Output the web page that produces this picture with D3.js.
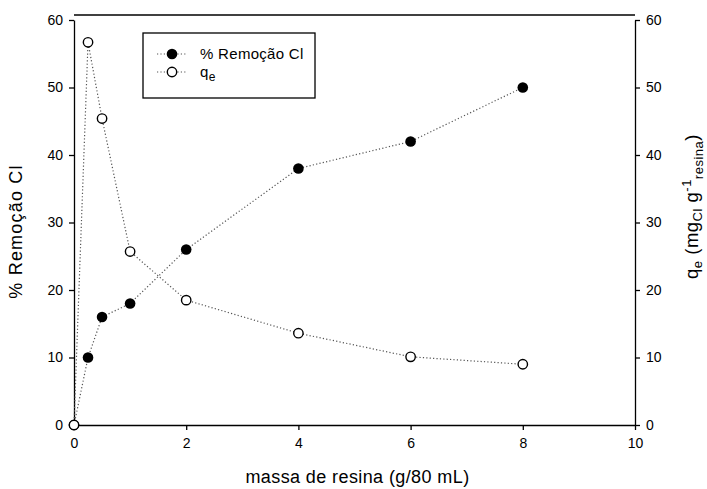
<!DOCTYPE html>
<html>
<head>
<meta charset="utf-8">
<script src="https://cdn.jsdelivr.net/npm/d3@7"></script>
<style>
  body { margin: 0; background: #fff; }
  svg { font-family: "Liberation Sans", Arial, sans-serif; }
</style>
</head>
<body>
<div id="root"></div>
<script>
const massa = [0, 0.25, 0.5, 1, 2, 4, 6, 8];
const remocao = [0, 10, 16, 18, 26, 38, 42, 50];
const qe = [0, 56.7, 45.4, 25.7, 18.5, 13.6, 10.1, 9.0];
const xTicks = [0, 2, 4, 6, 8, 10];
const yTicks = [0, 10, 20, 30, 40, 50, 60];

const W = 707, H = 489;
const margin = {top: 20, right: 72, bottom: 64, left: 74},
    width = W - margin.left - margin.right,
    height = H - margin.top - margin.bottom;

let svg = d3.select("#root").append("svg")
    .attr("width", W)
    .attr("height", H)
    .append("g")
    .attr("transform", "translate(" + margin.left + "," + margin.top + ")");

let x = d3.scaleLinear().domain([0, 10]).range([0, width]);
let yL = d3.scaleLinear().domain([0, 60]).range([height, 0]);
let yR = d3.scaleLinear().domain([0, 60]).range([height, 0]);

// top frame line (sits a little above the axes' top)
svg.append("line")
  .attr("x1", 0).attr("x2", width)
  .attr("y1", -5).attr("y2", -5)
  .attr("stroke", "#000").attr("stroke-width", 1.3);

function styleAxis(g) {
  g.selectAll("path, line").attr("stroke", "#000").attr("stroke-width", 1.3);
  g.selectAll("text").attr("font-size", "14px").attr("fill", "#000")
    .attr("font-family", "Liberation Sans, Arial, sans-serif");
}

svg.append("g")
  .attr("transform", "translate(0," + height + ")")
  .call(d3.axisBottom(x).tickValues(xTicks).tickSize(5).tickSizeOuter(0).tickPadding(8))
  .call(styleAxis);

svg.append("g")
  .call(d3.axisLeft(yL).tickValues(yTicks).tickSize(5).tickSizeOuter(0).tickPadding(6))
  .call(styleAxis);

svg.append("g")
  .attr("transform", "translate(" + width + ",0)")
  .call(d3.axisRight(yR).tickValues(yTicks).tickSize(5).tickSizeOuter(0).tickPadding(6))
  .call(styleAxis);

// lines
const line1 = d3.line().x((d, i) => x(massa[i])).y(d => yL(d));
const line2 = d3.line().x((d, i) => x(massa[i])).y(d => yR(d));

svg.append("path").datum(remocao)
  .attr("d", line1).attr("fill", "none")
  .attr("stroke", "#555").attr("stroke-width", 1.2)
  .attr("stroke-dasharray", "1.2,2.2");

svg.append("path").datum(qe)
  .attr("d", line2).attr("fill", "none")
  .attr("stroke", "#555").attr("stroke-width", 1.2)
  .attr("stroke-dasharray", "1.2,2.2");

svg.selectAll(".dot1").data(remocao).enter()
  .append("circle").attr("class", "dot1")
  .attr("cx", (d, i) => x(massa[i])).attr("cy", d => yL(d))
  .attr("r", 5.3).attr("fill", "#000");

svg.selectAll(".dot2").data(qe).enter()
  .append("circle").attr("class", "dot2")
  .attr("cx", (d, i) => x(massa[i])).attr("cy", d => yR(d))
  .attr("r", 4.7).attr("fill", "#fff")
  .attr("stroke", "#000").attr("stroke-width", 1.4);

// axis titles
svg.append("text")
  .attr("x", width / 2 + 3).attr("y", height + 58)
  .attr("text-anchor", "middle")
  .attr("font-size", "18px")
  .attr("letter-spacing", "0.4px")
  .text("massa de resina (g/80 mL)");

svg.append("text")
  .attr("transform", "translate(" + (-52) + "," + (height / 2 + 9) + ") rotate(-90)")
  .attr("text-anchor", "middle")
  .attr("font-size", "18px")
  .attr("letter-spacing", "1.2px")
  .text("% Remoção Cl");

let rt = svg.append("text")
  .attr("transform", "translate(" + (width + 63) + "," + (height / 2 - 16) + ") rotate(-90)")
  .attr("text-anchor", "middle")
  .attr("font-size", "18.5px")
  .attr("letter-spacing", "0.5px");
rt.append("tspan").text("q");
rt.append("tspan").attr("font-size", "13px").attr("dy", 4).text("e");
rt.append("tspan").attr("dy", -4).text(" (mg");
rt.append("tspan").attr("font-size", "13px").attr("dy", 4).text("Cl");
rt.append("tspan").attr("dy", -4).text(" g");
rt.append("tspan").attr("font-size", "13px").attr("dy", -7).text("-1");
rt.append("tspan").attr("font-size", "13px").attr("dy", 12).text("resina");
rt.append("tspan").attr("dy", -5).text(")");

// legend
const legendItems = [
  {label: "% Remoção Cl", fill: "#000"},
  {label: "q", sub: "e", fill: "#fff"}
];
let lg = svg.append("g").attr("transform", "translate(" + (x(1.23)) + "," + (13) + ")");
lg.append("rect").attr("width", 172).attr("height", 65)
  .attr("fill", "#fff").attr("stroke", "#000").attr("stroke-width", 1.3);

let item = lg.selectAll(".legend").data(legendItems).enter()
  .append("g").attr("class", "legend")
  .attr("transform", (d, i) => "translate(0," + (21 + i * 18) + ")");
item.append("line").attr("x1", 14).attr("x2", 43)
  .attr("stroke", "#555").attr("stroke-width", 1.2)
  .attr("stroke-dasharray", "1.2,2.2");
item.append("circle").attr("cx", 29).attr("r", (d, i) => i ? 4.7 : 5.3)
  .attr("fill", d => d.fill)
  .attr("stroke", (d, i) => i ? "#000" : "none").attr("stroke-width", 1.4);
let lt = item.append("text").attr("x", 57).attr("dy", "0.35em")
  .attr("font-size", "15px").attr("letter-spacing", "0.3px");
lt.append("tspan").text(d => d.label);
lt.filter(d => d.sub).append("tspan").attr("font-size", "12px").attr("dy", 4).text(d => d.sub);
</script>
</body>
</html>
